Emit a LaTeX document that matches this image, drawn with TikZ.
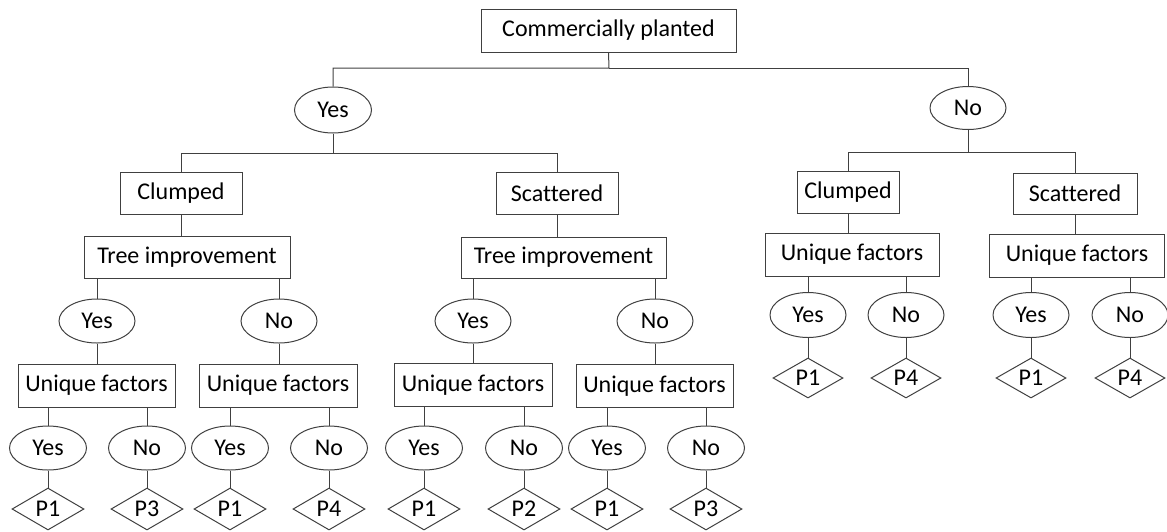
\documentclass[tikz,border=0pt]{standalone}
\usepackage{fontspec}
\setmainfont{Carlito}[Ligatures=NoCommon]
\usetikzlibrary{shapes.geometric}
\tikzset{
  box/.style={draw=black!75, line width=1pt, inner sep=0pt, minimum height=43pt, text=black, font=\fontsize{24}{28}\selectfont},
  oval/.style={ellipse, draw=black!75, line width=1pt, inner sep=0pt, minimum width=76pt, minimum height=44pt, text=black, font=\fontsize{24}{28}\selectfont},
  leaf/.style={diamond, draw=black!75, line width=1pt, inner sep=0pt, minimum width=72pt, minimum height=42pt, text=black, font=\fontsize{24}{28}\selectfont},
  link/.style={draw=black!75, line width=1pt}
}
\begin{document}
\begin{tikzpicture}[x=1pt,y=-1pt]
\useasboundingbox (0,0) rectangle (1167,531);
\node[box, minimum width=255pt] (root) at (608.5,30.5) {Commercially planted};
\node[oval, minimum width=77pt, minimum height=46pt] (yes) at (333,110) {Yes};
\node[oval, minimum height=43pt] (no) at (968,108) {No};
\node[box, minimum width=122pt, minimum height=42pt] (clumpL) at (181,193) {Clumped};
\node[box, minimum width=122pt, minimum height=42pt] (scatL) at (557,193) {Scattered};
\node[box, minimum width=102pt, minimum height=42pt] (clumpR) at (848,192) {Clumped};
\node[box, minimum width=124pt, minimum height=41pt] (scatR) at (1075,193.5) {Scattered};
\node[box, minimum width=206pt, minimum height=42pt] (treeL) at (187,257) {Tree improvement};
\node[box, minimum width=205pt, minimum height=41pt] (treeM) at (563.5,257.5) {Tree improvement};
\node[oval] (tLy) at (97,321) {Yes};
\node[oval] (tLn) at (279,321) {No};
\node[oval] (tMy) at (473,321) {Yes};
\node[oval] (tMn) at (655,321) {No};
\node[box, minimum width=157pt] (ufA) at (96.5,385.5) {Unique factors};
\node[box, minimum width=158pt] (ufB) at (278,385.5) {Unique factors};
\node[box, minimum width=158pt] (ufC) at (473,385) {Unique factors};
\node[box, minimum width=157pt] (ufD) at (654.5,386) {Unique factors};
\node[box, minimum width=174pt] (ufE) at (852,254.5) {Unique factors};
\node[box, minimum width=175pt] (ufF) at (1077,255.5) {Unique factors};
\node[oval, minimum width=77pt] (aY) at (48,448) {Yes};
\node[oval, minimum width=77pt] (aN) at (147,448) {No};
\node[oval, minimum width=77pt] (bY) at (230,448) {Yes};
\node[oval, minimum width=77pt] (bN) at (329,448) {No};
\node[oval, minimum width=77pt] (cY) at (424,448) {Yes};
\node[oval, minimum width=77pt] (cN) at (524,448) {No};
\node[oval, minimum width=77pt] (dY) at (607,448) {Yes};
\node[oval, minimum width=77pt] (dN) at (706,448) {No};
\node[oval, minimum height=45pt] (eY) at (808,315) {Yes};
\node[oval, minimum height=45pt] (eN) at (906,315) {No};
\node[oval, minimum height=45pt] (fY) at (1031,315) {Yes};
\node[oval, minimum height=45pt] (fN) at (1130,315) {No};
\node[leaf] (aYp) at (48,509) {P1};
\node[leaf] (aNp) at (147,509) {P3};
\node[leaf] (bYp) at (230,509) {P1};
\node[leaf] (bNp) at (329,509) {P4};
\node[leaf] (cYp) at (424,509) {P1};
\node[leaf] (cNp) at (524,509) {P2};
\node[leaf] (dYp) at (607,509) {P1};
\node[leaf] (dNp) at (706,509) {P3};
\node[leaf, minimum width=70pt, minimum height=40pt] (eYp) at (808,378) {P1};
\node[leaf, minimum width=70pt, minimum height=40pt] (eNp) at (906,378) {P4};
\node[leaf, minimum width=70pt, minimum height=40pt] (fYp) at (1031,378) {P1};
\node[leaf, minimum width=70pt, minimum height=40pt] (fNp) at (1130,378) {P4};
\coordinate (bar0) at (609,68);
\coordinate (bar1) at (333,153);
\coordinate (bar2) at (968,152);
\draw[link] (root.south) -- (bar0) -| (yes.north);
\draw[link] (bar0) -| (no.north);
\draw[link] (yes.south) -- (bar1) -| (clumpL.north);
\draw[link] (bar1) -| (scatL.north);
\draw[link] (no.south) -- (bar2) -| (clumpR.north);
\draw[link] (bar2) -| (scatR.north);
\draw[link] (clumpL.south) -- (clumpL.south |- treeL.north);
\draw[link] (scatL.south) -- (scatL.south |- treeM.north);
\draw[link] (clumpR.south) -- (clumpR.south |- ufE.north);
\draw[link] (scatR.south) -- (scatR.south |- ufF.north);
\foreach \e/\t/\u in {tLy/treeL/ufA, tLn/treeL/ufB, tMy/treeM/ufC, tMn/treeM/ufD}{
  \draw[link] (\e.north |- \t.south) -- (\e.north);
  \draw[link] (\e.south) -- (\e.south |- \u.north);
}
\foreach \e/\u in {aY/ufA, aN/ufA, bY/ufB, bN/ufB, cY/ufC, cN/ufC, dY/ufD, dN/ufD, eY/ufE, eN/ufE, fY/ufF, fN/ufF}{
  \draw[link] (\e.north |- \u.south) -- (\e.north);
  \draw[link] (\e.south) -- (\e p.north);
}
\end{tikzpicture}
\end{document}
